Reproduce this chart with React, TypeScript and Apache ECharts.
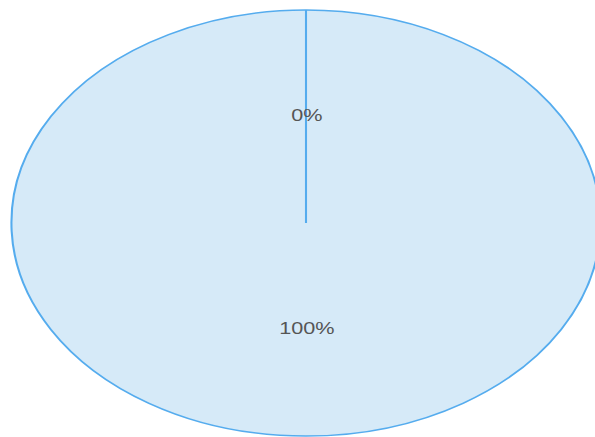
import React, { useEffect, useRef } from "react";
import * as echarts from "echarts";

const categories = ["Slice A", "Slice B"];
const values = [0, 100];

export default function App() {
  const ref = useRef<HTMLDivElement>(null);
  useEffect(() => {
    const chart = echarts.init(ref.current!, null, { renderer: "svg" });
    const total = values.reduce((a, b) => a + b, 0);
    const R = 163;
    const cx = 306;
    const cy = 223;
    const sx = 294.5 / R;
    const sy = 213 / R;
    chart.setOption({
      animation: false,
      series: [
        {
          type: "custom",
          coordinateSystem: "none",
          data: values.map((v, i) => ({ name: categories[i], value: v })),
          renderItem: (params: any, api: any) => {
            const i = params.dataIndex;
            const v = api.value(0) as number;
            let cum = 0;
            for (let k = 0; k < i; k++) cum += values[k];
            const start = -Math.PI / 2 + (2 * Math.PI * cum) / total;
            const end = start + (2 * Math.PI * v) / total;
            const mid = (start + end) / 2;
            return {
              type: "group",
              x: cx,
              y: cy,
              scaleX: sx,
              scaleY: sy,
              children: [
                {
                  type: "sector",
                  shape: { cx: 0, cy: 0, r0: 0, r: R, startAngle: start, endAngle: end, clockwise: true },
                  style: { fill: "#d6eaf8", stroke: "#55acee", lineWidth: 1.15 },
                  z2: 10 - i,
                },
                {
                  type: "text",
                  x: (Math.cos(mid) * R) / 2 + 0.5,
                  y: (Math.sin(mid) * R) / 2 - 0.8,
                  style: {
                    text: Math.round((v / total) * 100) + "%",
                    fill: "#555",
                    font: '12px "Liberation Sans", Arial, sans-serif',
                    align: "center",
                    verticalAlign: "middle",
                  },
                  z2: 20,
                },
              ],
            };
          },
        },
      ],
    });
    return () => chart.dispose();
  }, []);
  return (
    <div
      ref={ref}
      style={{ position: "absolute", left: 0, top: 0, width: 595, height: 437 }}
    />
  );
}
